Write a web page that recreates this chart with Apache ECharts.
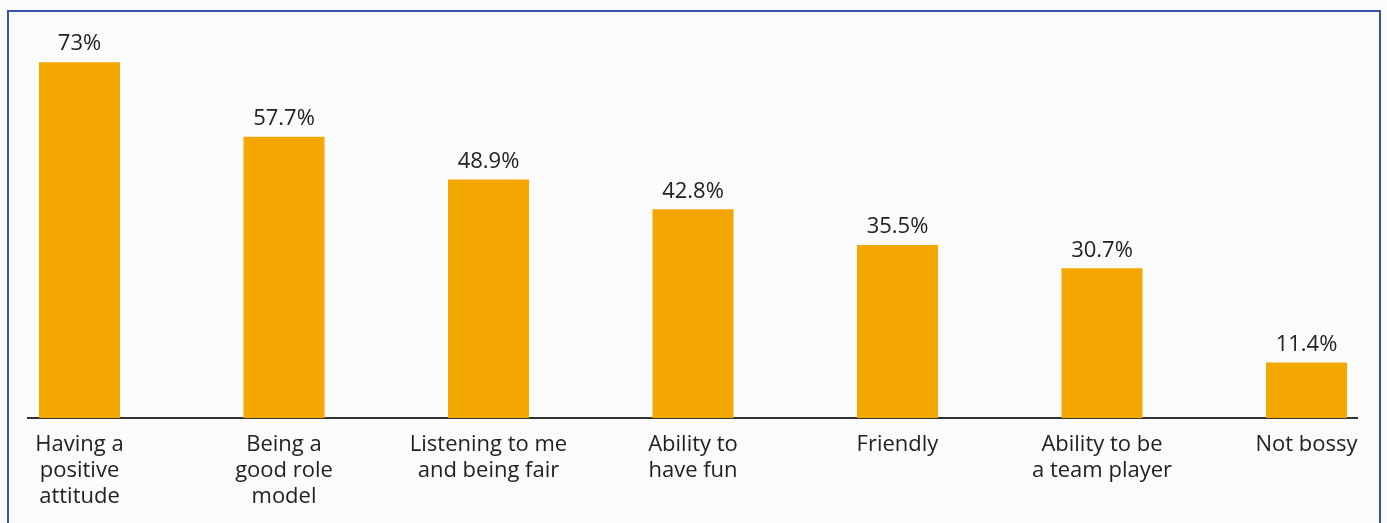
<!DOCTYPE html>
<html>
<head>
<meta charset="utf-8">
<script src="https://cdn.jsdelivr.net/npm/echarts@6/dist/echarts.min.js"></script>
<style>
  html, body { margin: 0; padding: 0; background: #fbfbfb; }
  #main { width: 1387px; height: 523px; }
</style>
</head>
<body>
<div id="main"></div>
<script>
// categories and values
const categories = [
  'Having a\npositive\nattitude',
  'Being a\ngood role\nmodel',
  'Listening to me\nand being fair',
  'Ability to\nhave fun',
  'Friendly',
  'Ability to be\na team player',
  'Not bossy'
];
const percents = [73, 57.7, 48.9, 42.8, 35.5, 30.7, 11.4];

const chart = echarts.init(document.getElementById('main'));
const font = '"Open Sans", sans-serif';

chart.setOption({
  backgroundColor: '#fbfbfb',
  animation: false,
  grid: { left: 79.5, right: 80.5, top: 28, bottom: 105 },
  xAxis: {
    type: 'category',
    data: categories,
    boundaryGap: false,
    axisLine: { show: false },
    axisTick: { show: false },
    axisLabel: {
      interval: 0,
      margin: 14,
      color: '#222',
      fontFamily: font,
      fontSize: 22,
      lineHeight: 26,
      align: 'center'
    }
  },
  yAxis: {
    type: 'value',
    min: 0,
    max: 80,
    show: false,
    splitLine: { show: false }
  },
  series: [{
    type: 'bar',
    data: percents,
    barWidth: 81,
    itemStyle: { color: '#f3a700' },
    label: {
      show: true,
      position: 'top',
      distance: 7,
      formatter: p => p.value + '%',
      color: '#222',
      fontFamily: font,
      fontSize: 22
    }
  }],
  graphic: [
    {
      type: 'rect',
      shape: { x: 8, y: 11, width: 1372, height: 540 },
      style: { fill: 'none', stroke: '#3552a3', lineWidth: 2 },
      silent: true
    },
    {
      type: 'line',
      shape: { x1: 27, y1: 418, x2: 1358, y2: 418 },
      style: { stroke: '#333', lineWidth: 2 },
      silent: true
    }
  ]
});
</script>
</body>
</html>
